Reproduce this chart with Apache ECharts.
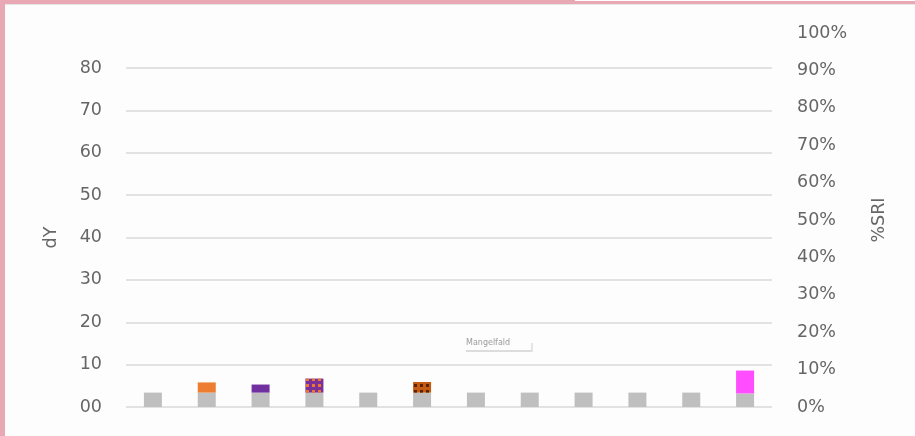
<!DOCTYPE html>
<html><head><meta charset="utf-8">
<script src="https://cdn.jsdelivr.net/npm/echarts@6/dist/echarts.min.js"></script>
<style>
html,body{margin:0;padding:0;background:#fff;}
#c{position:absolute;left:0;top:0;width:915px;height:436px;background:#fdfdfd;}
.b{position:absolute;background:#e8a9b5;}
</style></head><body>
<div id="c"></div>
<div class="b" style="left:0;top:0;width:575px;height:4px"></div>
<div class="b" style="left:575px;top:1px;width:340px;height:3px"></div>
<div style="position:absolute;left:5px;top:4px;width:910px;height:1px;background:#e6e6e6"></div>
<div class="b" style="left:0;top:0;width:5px;height:436px"></div>
<script>
const categories = ['1','2','3','4','5','6','7','8','9','10','11','12'];
const baseGray   = [3.4,3.4,3.4,3.4,3.4,3.4,3.4,3.4,3.4,3.4,3.4,3.2];
const orangeVals = [null,2.4,null,null,null,null,null,null,null,null,null,null];
const purpleVals = [null,null,1.9,null,null,null,null,null,null,null,null,null];
const mixedVals  = [null,null,null,3.3,null,null,null,null,null,null,null,null];
const brownVals  = [null,null,null,null,null,2.5,null,null,null,null,null,null];
const pinkVals   = [null,null,null,null,null,null,null,null,null,null,null,5.4];
const leftTicks  = {min:0, max:80, step:10};
const rightTicks = {min:0, max:1, step:0.1};

const chart = echarts.init(document.getElementById('c'));
const font = 'DejaVu Sans';
const lab = {color:'#666', fontFamily:font, fontSize:17.5};
const bw = 18;
function bar(name, data, color, extra){
  return Object.assign({name, type:'bar', stack:'s', data, barWidth:bw,
    xAxisIndex:0, yAxisIndex:0, itemStyle:{color}}, extra||{});
}
chart.setOption({
  animation:false,
  grid:[{left:126,right:143,top:68,bottom:29},{left:126,right:143,top:33,bottom:29}],
  xAxis:[
    {type:'category', gridIndex:0, data:categories, axisLine:{show:false}, axisTick:{show:false}, axisLabel:{show:false}},
    {type:'category', gridIndex:1, data:categories, show:false}
  ],
  yAxis:[
    {type:'value', gridIndex:0, min:leftTicks.min, max:leftTicks.max, interval:leftTicks.step,
     name:'dY', nameLocation:'middle', nameGap:66, nameRotate:90, nameTextStyle:lab,
     axisLine:{show:false}, axisTick:{show:false},
     axisLabel:Object.assign({margin:24, padding:[3,0,0,0], formatter:v=>String(v).padStart(2,'0')}, lab),
     splitLine:{lineStyle:{color:'#d9d9d9', width:1.5}}},
    {type:'value', gridIndex:1, position:'right', min:rightTicks.min, max:rightTicks.max, interval:rightTicks.step,
     name:'%SRI', nameLocation:'middle', nameGap:98, nameRotate:90, nameTextStyle:lab,
     axisLine:{show:false}, axisTick:{show:false}, splitLine:{show:false},
     axisLabel:Object.assign({margin:25, padding:[3,0,0,0], formatter:v=>Math.round(v*100)+'%'}, lab)}
  ],
  series:[
    bar('base', baseGray, '#bfbfbf'),
    bar('orange', orangeVals, '#ed7d31'),
    bar('purple', purpleVals, '#7030a0'),
    bar('mixed', mixedVals, '#7a2f9a', {itemStyle:{color:'#7a2f9a', decal:{symbol:'rect', color:'#e8792e', dashArrayX:[3,3], dashArrayY:[3,3], symbolSize:1, rotation:0}}}),
    bar('brown', brownVals, '#c55a11', {itemStyle:{color:'#c55a11', decal:{symbol:'rect', color:'#5a2404', dashArrayX:[3,3], dashArrayY:[3,3], symbolSize:1, rotation:0}}}),
    bar('pink', pinkVals, '#ff4dff')
  ],
  graphic:[
    {type:'text', left:466, top:339, style:{text:'Mangelfald', fill:'#9a9a9a', font:'8px "DejaVu Sans"'}},
    {type:'line', shape:{x1:466,y1:351,x2:531,y2:351}, style:{stroke:'#bbb', lineWidth:1}},
    {type:'line', shape:{x1:532,y1:343,x2:532,y2:352}, style:{stroke:'#ccc', lineWidth:1}}
  ]
});
</script>
</body></html>
